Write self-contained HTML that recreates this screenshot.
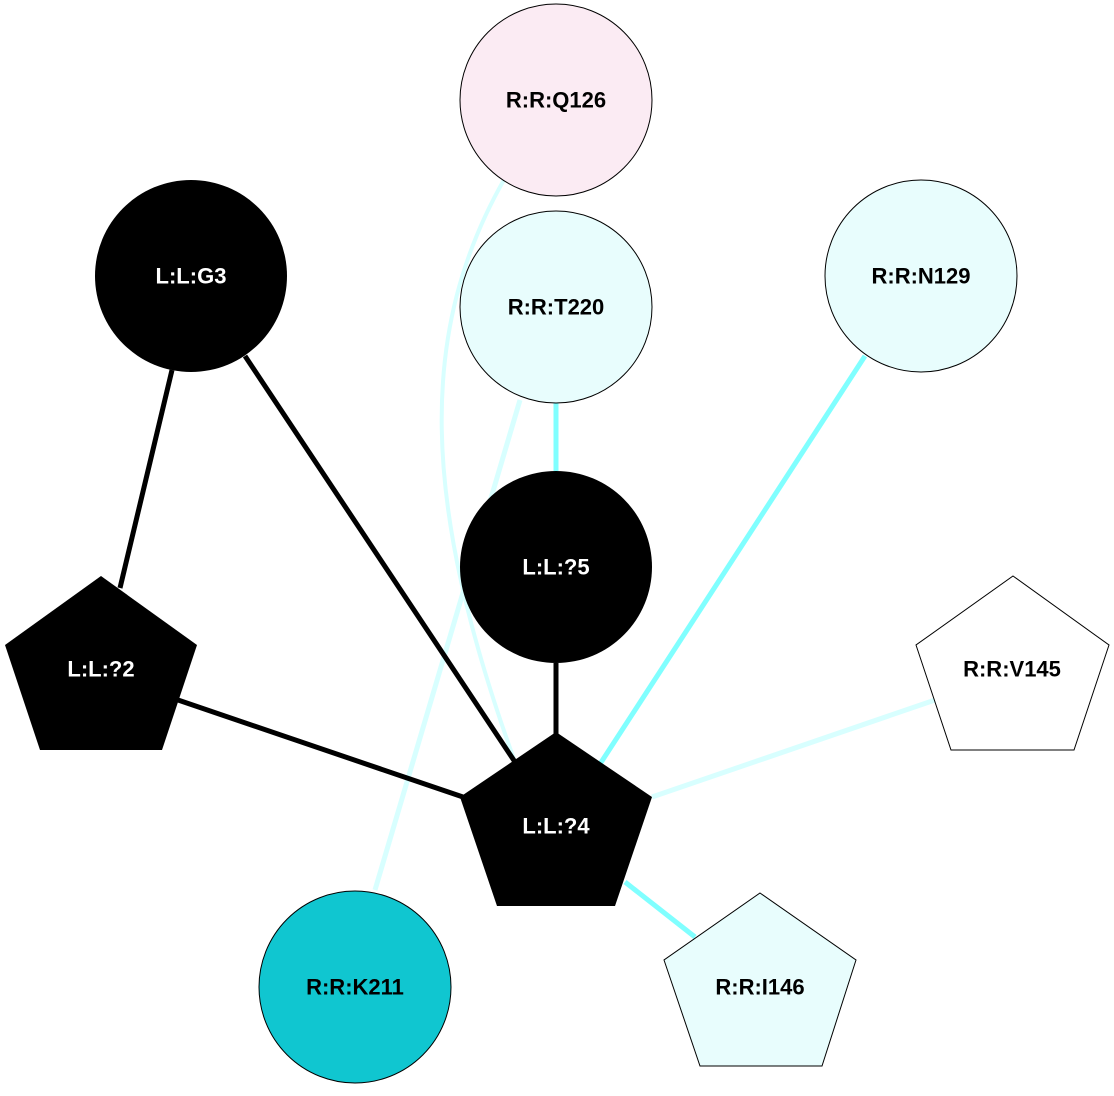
<!DOCTYPE html>
<html><head><meta charset="utf-8"><style>
html,body{margin:0;padding:0;background:#fff;}
svg text{font-family:"Liberation Sans",Arial,sans-serif;font-weight:bold;font-size:22px;text-anchor:middle;dominant-baseline:central;}
</style></head><body>
<svg width="1114" height="1091" viewBox="0 0 1114 1091" xmlns="http://www.w3.org/2000/svg">
<g fill="none" stroke-linecap="butt">
<path d="M505,178 C418,330 420,500 515,762" stroke="#d8ffff" stroke-width="4"/>
<line x1="520" y1="400" x2="375" y2="890" stroke="#d8ffff" stroke-width="5"/>
<line x1="935" y1="700" x2="652" y2="797" stroke="#d8ffff" stroke-width="5"/>
<line x1="556" y1="403" x2="556" y2="471" stroke="#80ffff" stroke-width="5"/>
<line x1="865" y1="356" x2="600" y2="764" stroke="#80ffff" stroke-width="5"/>
<line x1="625" y1="882" x2="695" y2="937" stroke="#80ffff" stroke-width="5"/>
<line x1="172" y1="370" x2="120" y2="588" stroke="#000" stroke-width="5"/>
<line x1="245" y1="356" x2="515" y2="762" stroke="#000" stroke-width="5"/>
<line x1="178" y1="700" x2="463" y2="797" stroke="#000" stroke-width="5"/>
<line x1="556" y1="663" x2="556" y2="734" stroke="#000" stroke-width="5"/>
</g>
<circle cx="556" cy="100" r="96" fill="#fbebf3" stroke="#000" stroke-width="1"/>
<text x="556" y="100">R:R:Q126</text>
<circle cx="191" cy="276" r="96" fill="#000"/>
<text x="191" y="276" fill="#fff">L:L:G3</text>
<circle cx="556" cy="307" r="96" fill="#e8fdfd" stroke="#000" stroke-width="1"/>
<text x="556" y="307">R:R:T220</text>
<circle cx="921" cy="276" r="96" fill="#e8fdfd" stroke="#000" stroke-width="1"/>
<text x="921" y="276">R:R:N129</text>
<circle cx="556" cy="567" r="96" fill="#000"/>
<text x="556" y="567" fill="#fff">L:L:?5</text>
<polygon points="101,576 197,645 162,750 40,750 5,645" fill="#000"/>
<text x="101" y="669" fill="#fff">L:L:?2</text>
<polygon points="556,732 652,797 615,906 497,906 460,797" fill="#000"/>
<text x="556" y="826" fill="#fff">L:L:?4</text>
<polygon points="1013,576 1109,645 1074,750 951,750 916,645" fill="#fff" stroke="#000" stroke-width="1"/>
<text x="1012" y="669">R:R:V145</text>
<polygon points="760,893 856,960 822,1066 700,1066 664,960" fill="#e8fdfd" stroke="#000" stroke-width="1"/>
<text x="760" y="987">R:R:I146</text>
<circle cx="355" cy="987" r="96" fill="#10c6d0" stroke="#000" stroke-width="1"/>
<text x="355" y="987">R:R:K211</text>
</svg>
</body></html>
